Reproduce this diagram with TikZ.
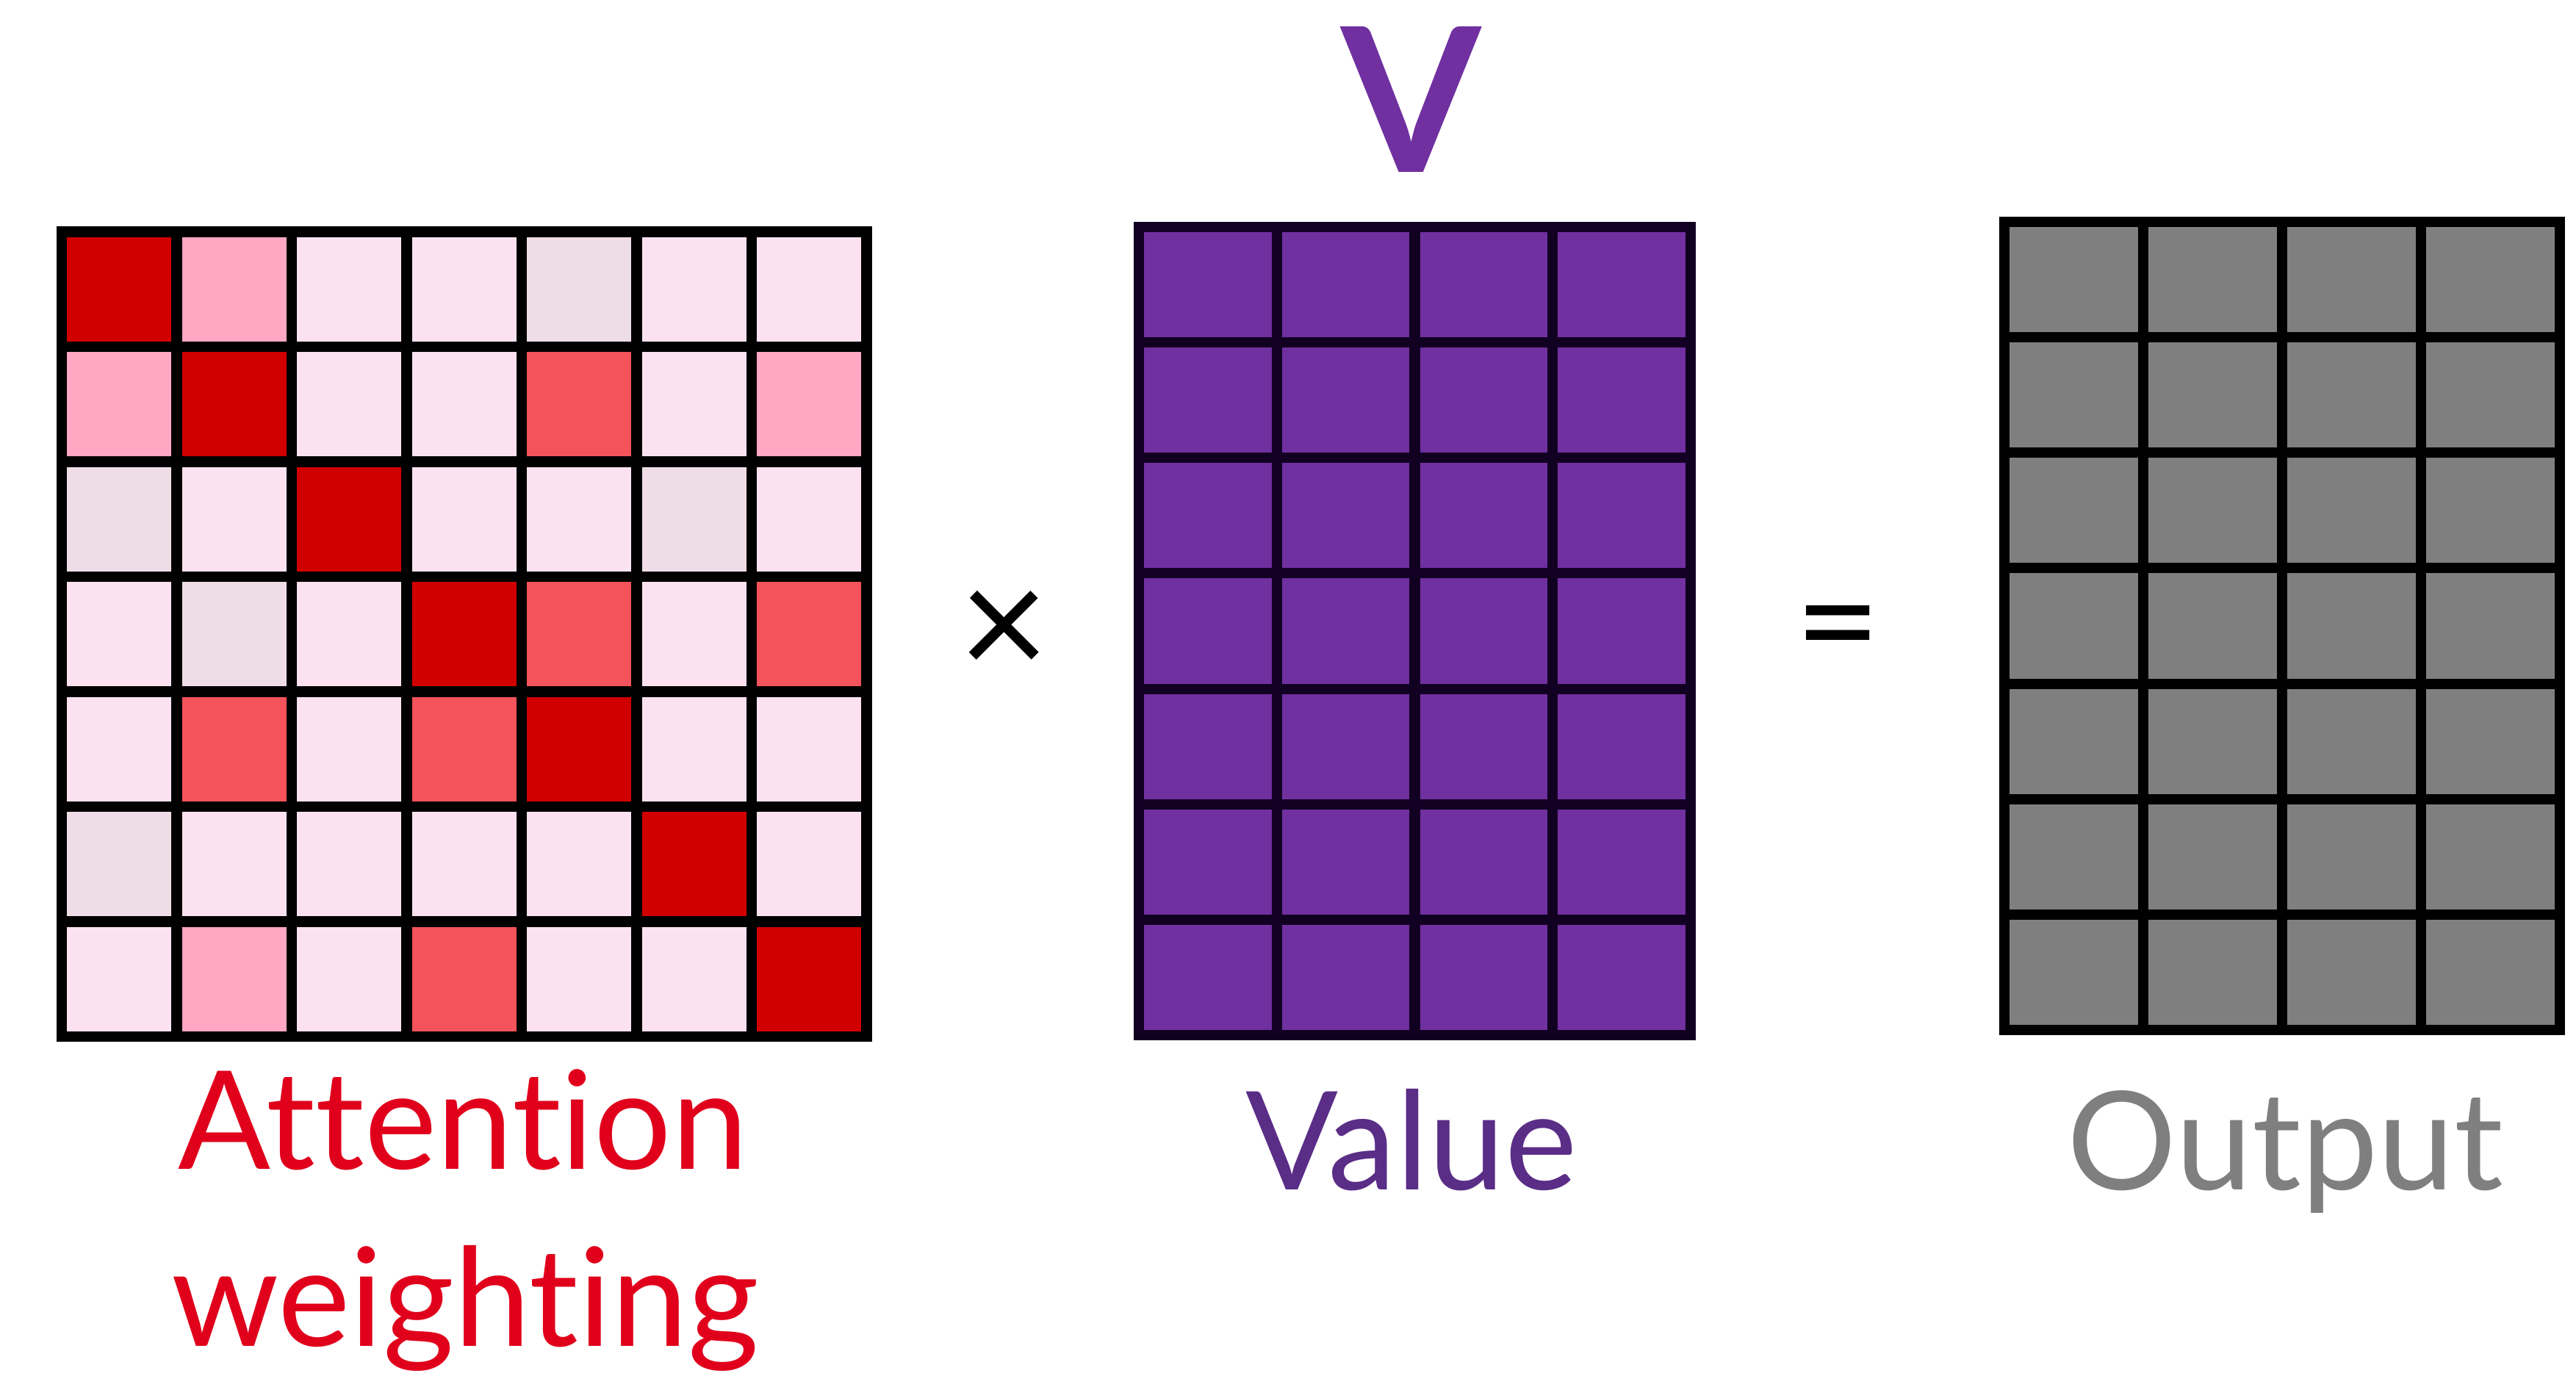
\documentclass[tikz,border=0pt]{standalone}
\usepackage{fontspec}
\setmainfont{Lato}[Ligatures=NoCommon]
\usepackage{tikz}
\definecolor{AttnDark}{HTML}{D10000}
\definecolor{AttnMid}{HTML}{F5535B}
\definecolor{AttnPink}{HTML}{FFA7C3}
\definecolor{AttnLight}{HTML}{FCE2F0}
\definecolor{AttnGrey}{HTML}{EEDDE6}
\definecolor{AttnText}{HTML}{E0001B}
\definecolor{ValuePurple}{HTML}{7030A0}
\definecolor{ValueText}{HTML}{5A2D87}
\definecolor{ValueGrid}{HTML}{120022}
\definecolor{OutGrey}{HTML}{7F7F7F}

\begin{document}
\begin{tikzpicture}[
    cellline/.style={line width=4pt},
    biglabel/.style={font=\fontsize{53pt}{64pt}\selectfont, anchor=base}
  ]
  \useasboundingbox (0,0) rectangle (35.06,18.73);

  % Attention weighting (7 x 7)
  \begin{scope}[shift={(0.84,4.62)}, x=1.565cm, y=1.565cm]
    \foreach \tone [count=\k from 0] in {AttnDark,AttnPink,AttnLight,AttnLight,AttnGrey,AttnLight,AttnLight,
        AttnPink,AttnDark,AttnLight,AttnLight,AttnMid,AttnLight,AttnPink,
        AttnGrey,AttnLight,AttnDark,AttnLight,AttnLight,AttnGrey,AttnLight,
        AttnLight,AttnGrey,AttnLight,AttnDark,AttnMid,AttnLight,AttnMid,
        AttnLight,AttnMid,AttnLight,AttnMid,AttnDark,AttnLight,AttnLight,
        AttnGrey,AttnLight,AttnLight,AttnLight,AttnLight,AttnDark,AttnLight,
        AttnLight,AttnPink,AttnLight,AttnMid,AttnLight,AttnLight,AttnDark}{
      \pgfmathtruncatemacro{\col}{mod(\k,7)}
      \pgfmathtruncatemacro{\row}{div(\k,7)}
      \fill[\tone] (\col,6-\row) rectangle ++(1,1);
    }
    \foreach \i in {1,...,6} {
      \draw[cellline] (\i,0) -- (\i,7);
      \draw[cellline] (0,\i) -- (7,\i);
    }
    \draw[cellline] (0,0) rectangle (7,7);
  \end{scope}

  % Value (7 x 4)
  \begin{scope}[shift={(15.50,4.64)}, x=1.8775cm, y=1.5714cm]
    \fill[ValuePurple] (0,0) rectangle (4,7);
    \foreach \i in {1,2,3} \draw[cellline, ValueGrid] (\i,0) -- (\i,7);
    \foreach \i in {1,...,6} \draw[cellline, ValueGrid] (0,\i) -- (4,\i);
    \draw[cellline, ValueGrid] (0,0) rectangle (4,7);
  \end{scope}

  % Output (7 x 4)
  \begin{scope}[shift={(27.28,4.71)}, x=1.89cm, y=1.5714cm]
    \fill[OutGrey] (0,0) rectangle (4,7);
    \foreach \i in {1,2,3} \draw[cellline] (\i,0) -- (\i,7);
    \foreach \i in {1,...,6} \draw[cellline] (0,\i) -- (4,\i);
    \draw[cellline] (0,0) rectangle (4,7);
  \end{scope}

  % Operators
  \node[font=\fontsize{60pt}{70pt}\selectfont] (times) at (13.67,10.10) {×};
  \node[font=\fontsize{57pt}{68pt}\selectfont] (equals) at (25.02,10.03) {=};

  % Labels
  \node[font=\fontsize{78pt}{90pt}\selectfont\bfseries, text=ValuePurple, anchor=base] (vsym) at (19.21,16.38) {V};
  \node[biglabel, text=AttnText] (attn) at (6.30,2.81) {Attention};
  \node[biglabel, text=AttnText] (weight) at (6.33,0.40) {weighting};
  \node[biglabel, text=ValueText] (value) at (19.21,2.53) {Value};
  \node[biglabel, text=OutGrey] (output) at (31.10,2.53) {Output};
\end{tikzpicture}
\end{document}
